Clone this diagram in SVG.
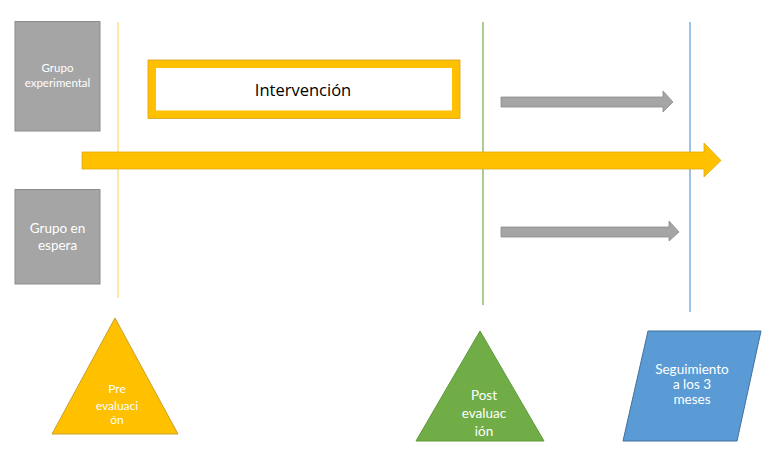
<svg xmlns="http://www.w3.org/2000/svg" width="771" height="459" viewBox="0 0 771 459">
<style>
.lbl{font-family:Lato,"Open Sans","Liberation Sans",sans-serif;fill:#ffffff;text-anchor:middle}
.gbox{fill:#a5a5a5;stroke:#8c8c8c;stroke-width:1}
.garrow{fill:#a5a5a5;stroke:#8c8c8c;stroke-width:0.8}
.vline{fill:none;stroke-width:1.2}
</style>
<rect width="771" height="459" fill="#ffffff"/>
<g id="timelines">
<line class="vline" x1="118" y1="22" x2="118" y2="298" stroke="#ffd966"/>
<line class="vline" x1="483" y1="22" x2="483" y2="305" stroke="#70ad47"/>
<line class="vline" x1="690" y1="22" x2="690" y2="312" stroke="#5b9bd5"/>
</g>
<g id="connectors">
<path d="M82,152 L704,152 L704,143 L721,160.5 L704,177 L704,169 L82,169 Z" fill="#ffc000" stroke="#e0aa10" stroke-width="0.8"/>
<path class="garrow" d="M501,97 L663,97 L663,91 L673,102 L663,112 L663,107 L501,107 Z"/>
<path class="garrow" d="M501,227 L669,227 L669,221 L679,232 L669,241 L669,237 L501,237 Z"/>
</g>
<g id="grupo-experimental">
<rect class="gbox" x="15" y="21.5" width="85" height="109.5"/>
<text class="lbl" x="57.5" y="72" font-size="11.5">Grupo</text>
<text class="lbl" x="57.5" y="87" font-size="11.5">experimental</text>
</g>
<g id="grupo-espera">
<rect class="gbox" x="15" y="189.5" width="85" height="94.5"/>
<text class="lbl" x="57.5" y="233" font-size="13.5">Grupo en</text>
<text class="lbl" x="57.5" y="250" font-size="13.5">espera</text>
</g>
<g id="intervencion">
<rect x="152" y="64" width="304" height="50.5" fill="#ffffff" stroke="#ffc000" stroke-width="8"/>
<rect x="148" y="60" width="312" height="58.5" fill="none" stroke="#d9a21a" stroke-width="0.8"/>
<text x="303" y="95.5" font-family="'Open Sans','Noto Sans',sans-serif" font-size="16.5" fill="#000000" text-anchor="middle">Intervención</text>
</g>
<g id="pre-evaluacion">
<polygon points="115,318 178,434 52,434" fill="#ffc000" stroke="#c9a02a" stroke-width="1"/>
<text class="lbl" x="117" y="393" font-size="12">Pre</text>
<text class="lbl" x="117" y="410" font-size="12">evaluaci</text>
<text class="lbl" x="117" y="424" font-size="12">ón</text>
</g>
<g id="post-evaluacion">
<polygon points="480,331 544,441 416,441" fill="#70ad47" stroke="#5e9a3a" stroke-width="1"/>
<text class="lbl" x="484" y="400" font-size="13.5">Post</text>
<text class="lbl" x="484" y="418" font-size="13.5">evaluac</text>
<text class="lbl" x="484" y="436" font-size="13.5">ión</text>
</g>
<g id="seguimiento">
<polygon points="648,331 761,331 737,441 623,441" fill="#5b9bd5" stroke="#41719c" stroke-width="1"/>
<text class="lbl" x="692" y="374" font-size="13.5">Seguimiento</text>
<text class="lbl" x="692" y="389" font-size="13.5">a los 3</text>
<text class="lbl" x="692" y="404" font-size="13.5">meses</text>
</g>
</svg>
